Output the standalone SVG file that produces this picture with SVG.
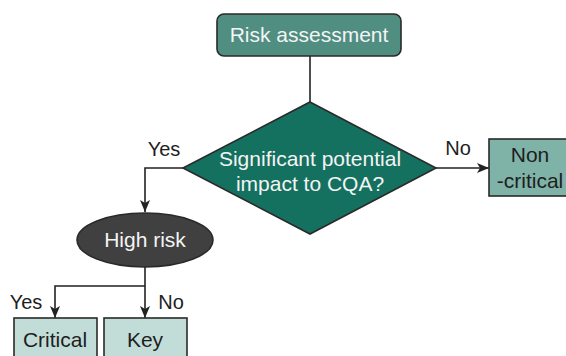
<svg xmlns="http://www.w3.org/2000/svg" width="566" height="356" viewBox="0 0 566 356">
<style>
text{font-family:"Liberation Sans",Arial,sans-serif;font-size:21px;text-anchor:middle}
.lt{fill:#f4f4f4}
.dk{fill:#1e1e1e}
.lbl{fill:#1e1e1e;font-size:20px}
.ln{fill:none;stroke:#222;stroke-width:1.6}
.nd{stroke:#2a2a2a;stroke-width:1.6}
</style>
<defs>
<marker id="ah" viewBox="0 0 12 10" refX="12" refY="5" markerWidth="12" markerHeight="10" markerUnits="userSpaceOnUse" orient="auto">
<path d="M0,0 L12,5 L0,10 L3,5 Z" fill="#222"/>
</marker>
</defs>
<g id="connectors">
<path class="ln" d="M310,56 V102"/>
<path class="ln" d="M183,168 H145 V212" marker-end="url(#ah)"/>
<path class="ln" d="M436,168 H489" marker-end="url(#ah)"/>
<path class="ln" d="M145,267 V318" marker-end="url(#ah)"/>
<path class="ln" d="M145,286 H55 V318" marker-end="url(#ah)"/>
</g>
<g id="risk-assessment">
<rect class="nd" x="217" y="14" width="184" height="42" rx="7" fill="#4f8e81"/>
<text class="lt" x="309" y="42">Risk assessment</text>
</g>
<g id="decision">
<polygon class="nd" points="310,102 436,168 310,234 183,168" fill="#14705f"/>
<text class="lt" x="310" y="166">Significant potential</text>
<text class="lt" x="310" y="191">impact to CQA?</text>
</g>
<g id="labels">
<text class="lbl" x="164" y="156">Yes</text>
<text class="lbl" x="458" y="155">No</text>
<text class="lbl" x="26" y="309">Yes</text>
<text class="lbl" x="171" y="309">No</text>
</g>
<g id="non-critical">
<rect class="nd" x="489" y="139" width="82" height="57" fill="#7fb3a8"/>
<text class="dk" x="530" y="162">Non</text>
<text class="dk" x="530" y="188">-critical</text>
</g>
<g id="high-risk">
<ellipse class="nd" cx="145" cy="240" rx="68" ry="27" fill="#404040"/>
<text class="lt" x="145" y="247">High risk</text>
</g>
<g id="critical">
<rect class="nd" x="14" y="318" width="83" height="45" fill="#c2ddd8"/>
<text class="dk" x="55" y="347">Critical</text>
</g>
<g id="key">
<rect class="nd" x="104" y="318" width="83" height="45" fill="#c2ddd8"/>
<text class="dk" x="145" y="347">Key</text>
</g>
</svg>
